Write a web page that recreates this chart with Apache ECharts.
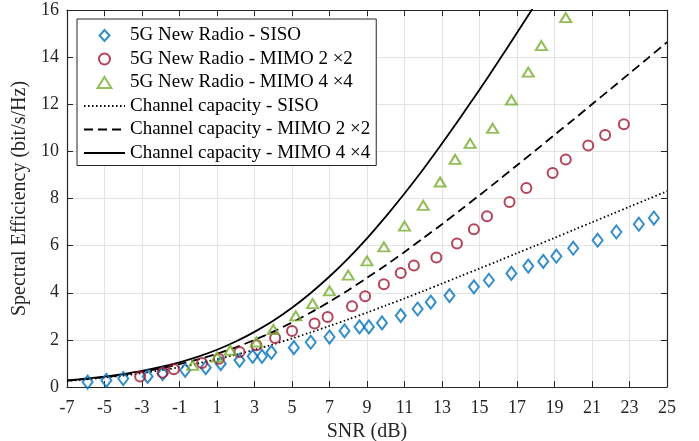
<!DOCTYPE html>
<html>
<head>
<meta charset="utf-8">
<script src="https://cdn.jsdelivr.net/npm/echarts@6/dist/echarts.min.js"></script>
<style>
  html, body { margin: 0; padding: 0; background: #fff; }
  #chart { width: 699px; height: 441px; }
</style>
</head>
<body>
<div id="chart"></div>
<script>
// ==================================================
// data

// capacity curves, read at every dB
var snrGrid = [-7, -6, -5, -4, -3, -2, -1, 0, 1, 2, 3, 4, 5, 6, 7, 8, 9, 10, 11, 12, 13, 14, 15, 16, 17, 18, 19, 20, 21, 22, 23, 24, 25];
var capSiso = [0.26, 0.32, 0.40, 0.48, 0.59, 0.71, 0.84, 1.00, 1.18, 1.37, 1.58, 1.81, 2.06, 2.32, 2.59, 2.87, 3.16, 3.46, 3.76, 4.07, 4.39, 4.71, 5.03, 5.35, 5.68, 6.00, 6.33, 6.66, 6.99, 7.32, 7.65, 7.98, 8.31];
var capMimo2 = [0.27, 0.34, 0.42, 0.52, 0.65, 0.79, 0.97, 1.17, 1.41, 1.68, 2.00, 2.35, 2.74, 3.16, 3.62, 4.11, 4.63, 5.17, 5.73, 6.32, 6.91, 7.52, 8.14, 8.77, 9.41, 10.05, 10.70, 11.34, 12.00, 12.65, 13.31, 13.97, 14.63];
var capMimo4 = [0.28, 0.35, 0.44, 0.55, 0.68, 0.85, 1.05, 1.29, 1.58, 1.93, 2.34, 2.81, 3.36, 3.99, 4.69, 5.46, 6.31, 7.23, 8.21, 9.24, 10.33, 11.46, 12.62, 13.81, 15.03, 16.27, 17.53];

// 5G NR markers
var sisoSnr = [-5.9, -4.9, -4.0, -2.7, -1.9, -0.7, 0.4, 1.2, 2.2, 2.9, 3.4, 3.9, 5.1, 6.0, 7.0, 7.8, 8.6, 9.1, 9.8, 10.8, 11.7, 12.4, 13.4, 14.7, 15.5, 16.7, 17.6, 18.4, 19.1, 20.0, 21.3, 22.3, 23.5, 24.3];
var sisoSe = [0.21, 0.28, 0.36, 0.45, 0.57, 0.71, 0.82, 0.99, 1.13, 1.30, 1.30, 1.47, 1.67, 1.90, 2.12, 2.38, 2.55, 2.55, 2.72, 3.03, 3.31, 3.60, 3.88, 4.25, 4.53, 4.82, 5.13, 5.33, 5.55, 5.89, 6.23, 6.58, 6.91, 7.17];

var mimo2Snr = [-3.1, -1.9, -1.3, 0.2, 1.1, 2.2, 3.1, 4.1, 5.0, 6.2, 6.9, 8.2, 8.9, 9.9, 10.8, 11.5, 12.7, 13.8, 14.7, 15.4, 16.6, 17.5, 18.9, 19.6, 20.8, 21.7, 22.7];
var mimo2Se = [0.45, 0.61, 0.75, 1.02, 1.20, 1.49, 1.77, 2.08, 2.38, 2.69, 2.97, 3.43, 3.85, 4.36, 4.84, 5.16, 5.50, 6.09, 6.69, 7.25, 7.85, 8.45, 9.08, 9.66, 10.25, 10.69, 11.15];

var mimo4Snr = [-0.3, 1.0, 1.7, 3.1, 4.0, 5.2, 6.1, 7.0, 8.0, 9.0, 9.9, 11.0, 12.0, 12.9, 13.7, 14.5, 15.7, 16.7, 17.6, 18.3, 19.6];
var mimo4Se = [0.92, 1.27, 1.56, 1.91, 2.44, 3.02, 3.54, 4.08, 4.75, 5.35, 5.95, 6.83, 7.71, 8.70, 9.66, 10.34, 10.98, 12.18, 13.36, 14.49, 15.68];

var names = [
  '5G New Radio - SISO',
  '5G New Radio - MIMO 2 \u00d72',
  '5G New Radio - MIMO 4 \u00d74',
  'Channel capacity - SISO',
  'Channel capacity - MIMO 2 \u00d72',
  'Channel capacity - MIMO 4 \u00d74'
];

// ==================================================
// helpers
function pairs(xs, ys) {
  var out = [];
  for (var i = 0; i < xs.length && i < ys.length; i++) out.push([xs[i], ys[i]]);
  return out;
}

var FONT = '"Liberation Serif", "DejaVu Serif", serif';
var AXIS_COLOR = '#262626';

function markerSeries(name, xs, ys, symbol, size, color) {
  return {
    name: name,
    type: 'scatter',
    data: pairs(xs, ys),
    symbol: symbol,
    symbolSize: size,
    z: 5,
    itemStyle: { color: 'rgba(255,255,255,0)', borderColor: color, borderWidth: 2 }
  };
}

function capSeries(name, ys, dash) {
  return {
    name: name,
    type: 'line',
    data: pairs(snrGrid, ys),
    symbol: 'none',
    smooth: 0.3,
    clip: true,
    z: 3,
    // only the legend uses itemStyle here, keep its dot invisible
    itemStyle: { color: 'rgba(0,0,0,0)', borderWidth: 0 },
    lineStyle: { color: '#000', width: 1.8, type: dash }
  };
}

// ==================================================
// chart
var chart = echarts.init(document.getElementById('chart'));

var option = {
  animation: false,
  backgroundColor: '#fff',
  textStyle: { fontFamily: FONT },
  grid: { left: 67, right: 32, top: 10, bottom: 54, outerBoundsMode: 'none' },
  legend: {
    orient: 'vertical',
    left: 77,
    top: 19,
    padding: [6, 6, 2, 6],
    itemWidth: 41,
    itemHeight: 11,
    itemGap: 2.5,
    backgroundColor: '#fff',
    borderColor: AXIS_COLOR,
    borderWidth: 1,
    borderRadius: 0,
    textStyle: { fontFamily: FONT, fontSize: 19, color: '#000', lineHeight: 21 },
    data: [
      { name: names[0], icon: 'path://M5,0L10,5.5L5,11L0,5.5Z' },
      { name: names[1], icon: 'circle' },
      { name: names[2], icon: 'path://M5,0L10,8L0,8Z' },
      { name: names[3] },
      { name: names[4] },
      { name: names[5] }
    ]
  },
  xAxis: [{
    type: 'value',
    min: -7,
    max: 25,
    interval: 2,
    name: 'SNR (dB)',
    nameLocation: 'middle',
    nameGap: 29,
    nameTextStyle: { fontFamily: FONT, fontSize: 20, color: AXIS_COLOR },
    axisLine: { onZero: false, lineStyle: { color: AXIS_COLOR, width: 1.2 } },
    axisTick: { inside: true, length: 6, lineStyle: { color: AXIS_COLOR } },
    axisLabel: { fontFamily: FONT, fontSize: 18, color: AXIS_COLOR, margin: 12 },
    splitLine: { show: true, lineStyle: { color: '#e3e3e3', width: 1 } }
  }, {
    type: 'value',
    position: 'top',
    min: -7,
    max: 25,
    interval: 2,
    axisLine: { onZero: false, lineStyle: { color: AXIS_COLOR, width: 1.2 } },
    axisTick: { inside: true, length: 6, lineStyle: { color: AXIS_COLOR } },
    axisLabel: { show: false },
    splitLine: { show: false }
  }],
  yAxis: [{
    type: 'value',
    min: 0,
    max: 16,
    interval: 2,
    name: 'Spectral Efficiency (bit/s/Hz)',
    nameLocation: 'middle',
    nameGap: 32,
    nameTextStyle: { fontFamily: FONT, fontSize: 20, color: AXIS_COLOR },
    axisLine: { show: true, onZero: false, lineStyle: { color: AXIS_COLOR, width: 1.2 } },
    axisTick: { show: true, inside: true, length: 6, lineStyle: { color: AXIS_COLOR } },
    axisLabel: { fontFamily: FONT, fontSize: 18, color: AXIS_COLOR, margin: 8 },
    splitLine: { show: true, lineStyle: { color: '#e3e3e3', width: 1 } }
  }, {
    type: 'value',
    position: 'right',
    min: 0,
    max: 16,
    interval: 2,
    axisLine: { show: true, onZero: false, lineStyle: { color: AXIS_COLOR, width: 1.2 } },
    axisTick: { show: true, inside: true, length: 6, lineStyle: { color: AXIS_COLOR } },
    axisLabel: { show: false },
    splitLine: { show: false }
  }],
  series: [
    markerSeries(names[0], sisoSnr, sisoSe, 'diamond', [10, 13], '#0072BD'),
    markerSeries(names[1], mimo2Snr, mimo2Se, 'circle', 10, '#A2142F'),
    markerSeries(names[2], mimo4Snr, mimo4Se, 'triangle', [11, 9], '#77AC30'),
    capSeries(names[3], capSiso, [1.5, 2.5]),
    capSeries(names[4], capMimo2, [9, 5]),
    capSeries(names[5], capMimo4, 'solid')
  ]
};

chart.setOption(option);
</script>
</body>
</html>
